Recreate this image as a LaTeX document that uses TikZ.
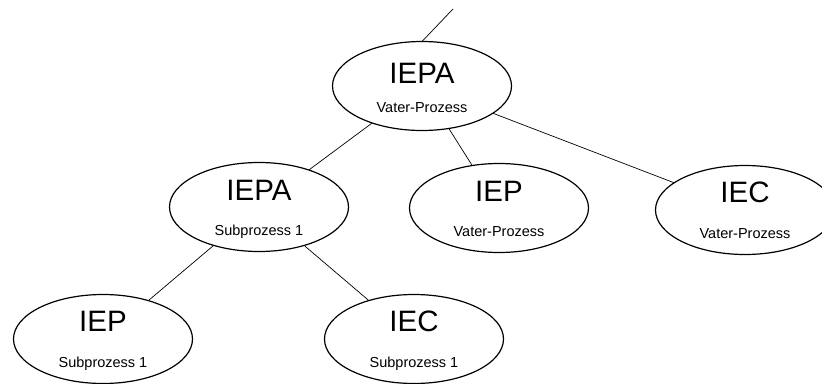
\documentclass[tikz,border=0pt]{standalone}
\usepackage{fontspec}
\setmainfont{Liberation Sans}
\usetikzlibrary{shapes.geometric}
\begin{document}
\begin{tikzpicture}[x=1pt,y=-1pt,
  proc/.style={draw,ellipse,line width=1.2pt,minimum width=179pt,minimum height=89pt,inner sep=0pt,outer sep=0pt},
  bigtext/.style={anchor=base,inner sep=0pt,font=\fontsize{29.5}{30}\selectfont},
  smalltext/.style={anchor=base,inner sep=0pt,font=\fontsize{14.5}{15}\selectfont},
  link/.style={line width=0.7pt}]
\useasboundingbox (0,0) rectangle (822,383);

% process ellipses
\node[proc] (A) at (422,86) {};
\node[proc] (B) at (259,207) {};
\node[proc] (C) at (499,208) {};
\node[proc] (D) at (745,210) {};
\node[proc] (E) at (103,339) {};
\node[proc] (F) at (414,339) {};

% labels: process type above, role below
\node[bigtext]   (A-t) at ([yshift=3pt]A.center)   {IEPA};
\node[smalltext] (A-s) at ([yshift=-26pt]A.center) {Vater-Prozess};
\node[bigtext]   (B-t) at ([yshift=7pt]B.center)   {IEPA};
\node[smalltext] (B-s) at ([yshift=-28pt]B.center) {Subprozess 1};
\node[bigtext]   (C-t) at ([yshift=7pt]C.center)   {IEP};
\node[smalltext] (C-s) at ([yshift=-28pt]C.center) {Vater-Prozess};
\node[bigtext]   (D-t) at ([yshift=8pt]D.center)   {IEC};
\node[smalltext] (D-s) at ([yshift=-28pt]D.center) {Vater-Prozess};
\node[bigtext]   (E-t) at ([yshift=8pt]E.center)   {IEP};
\node[smalltext] (E-s) at ([yshift=-28pt]E.center) {Subprozess 1};
\node[bigtext]   (F-t) at ([yshift=8pt]F.center)   {IEC};
\node[smalltext] (F-s) at ([yshift=-28pt]F.center) {Subprozess 1};

% link to the parent above
\coordinate (up) at (453,9);
\draw[link] (A.north) -- (up);

% tree edges
\draw[link] (A) -- (B);
\draw[link] (A) -- (C);
\draw[link] (A) -- (D);
\draw[link] (B) -- (E);
\draw[link] (B) -- (F);
\end{tikzpicture}
\end{document}
